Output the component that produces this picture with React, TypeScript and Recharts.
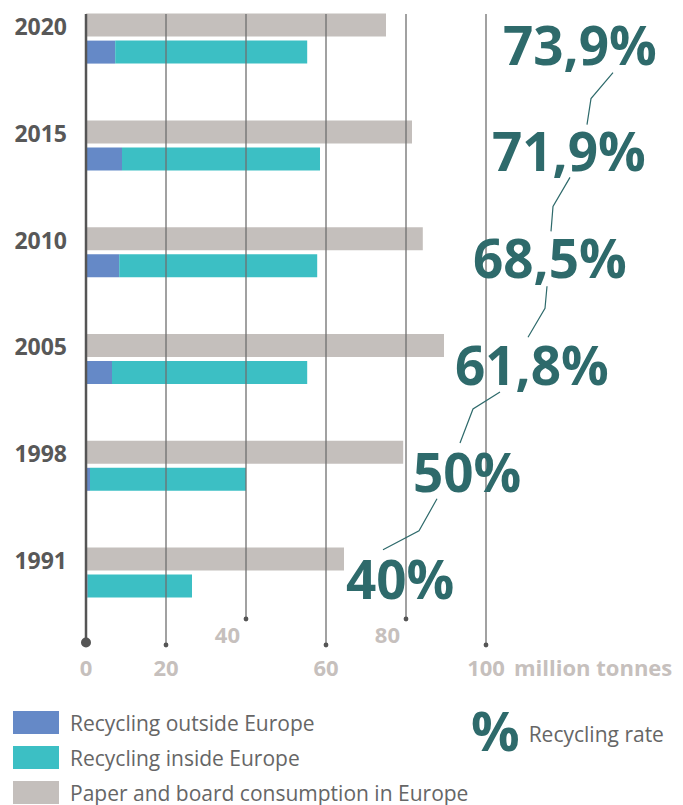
import { BarChart, Bar, XAxis, YAxis, LabelList } from "recharts";

const years = ["2020", "2015", "2010", "2005", "1998", "1991"];
const consumption = [75, 81.5, 84.2, 89.5, 79.3, 64.5];
const outsideEurope = [7.3, 9, 8.3, 6.5, 1, 0.4];
const insideEurope = [48, 49.5, 49.5, 48.8, 39, 26.1];
const recyclingRate = ["73,9%", "71,9%", "68,5%", "61,8%", "50%", "40%"];
const xTicks = [0, 20, 40, 60, 80, 100];

const seriesNames = [
  "Recycling outside Europe",
  "Recycling inside Europe",
  "Paper and board consumption in Europe",
];

const data = years.map((year, i) => ({
  year,
  consumption: consumption[i],
  outside: outsideEurope[i],
  inside: insideEurope[i],
  rate: recyclingRate[i],
}));

const FONT = "'Open Sans', sans-serif";
const GREY = "#c4bfbc";
const BLUE = "#6589c7";
const TEAL = "#3cbfc4";
const DARK_TEAL = "#2e6a6b";
const TICK_GREY = "#c6c0bd";
const GRID_TOP = 14;

// hand placed annotation layout (left edge of each rate label, connector path relative to bar top)
const rateLabelX = [503, 492, 473, 455, 413, 346];
const connectors = [
  [[613, 59], [591, 85], [587, 111]],
  [[570, 57], [553, 86], [551, 111]],
  [[547, 59], [545, 81], [528, 110]],
  [[500, 58], [473, 75], [460, 109]],
  [[437, 58], [419, 90], [383, 109]],
];

function YearTick({ y, payload }: any) {
  return (
    <text x={67} y={y - 4} textAnchor="end" fontFamily={FONT} fontWeight={700} fontSize={23} fill="#585858">
      {payload.value}
    </text>
  );
}

function XTick({ x, payload }: any) {
  const v = payload.value;
  if (v === 0) {
    return (
      <g>
        <line x1={x} x2={x} y1={GRID_TOP} y2={642} stroke="#555" strokeWidth={2.5} />
        <circle cx={x} cy={642.5} r={5} fill="#555" />
        <text x={x} y={676} textAnchor="middle" fontFamily={FONT} fontWeight={700} fontSize={22} fill={TICK_GREY}>0</text>
      </g>
    );
  }
  const upper = v === 40 || v === 80;
  const dotY = upper ? 619 : 645;
  return (
    <g>
      <line x1={x} x2={x} y1={GRID_TOP} y2={dotY} stroke="#6f6f6f" strokeWidth={1.3} />
      <circle cx={x} cy={dotY} r={2.4} fill="#555" />
      <text
        x={upper ? x - 6 : x}
        y={upper ? 643 : 676}
        textAnchor={upper ? "end" : "middle"}
        fontFamily={FONT}
        fontWeight={700}
        fontSize={22}
        fill={TICK_GREY}
      >
        {v}
      </text>
      {v === 100 && (
        <text x={x + 28} y={676} fontFamily={FONT} fontWeight={700} fontSize={22} fill={TICK_GREY}>
          million tonnes
        </text>
      )}
    </g>
  );
}

function RateLabel(props: any) {
  const { y, value } = props;
  const i = recyclingRate.indexOf(value);
  if (i < 0) return null;
  const path = connectors[i];
  return (
    <g>
      <text x={rateLabelX[i]} y={y + 51} fontFamily={FONT} fontWeight={700} fontSize={53} fill={DARK_TEAL}>
        {value}
      </text>
      {path && (
        <polyline
          points={path.map(([px, py]) => `${px},${y + py}`).join(" ")}
          fill="none"
          stroke={DARK_TEAL}
          strokeWidth={1.2}
        />
      )}
    </g>
  );
}

function Legend() {
  const colors = [BLUE, TEAL, GREY];
  return (
    <div style={{ position: "absolute", left: 0, top: 0, width: 683, height: 805, fontFamily: FONT, color: "#666", pointerEvents: "none" }}>
      {seriesNames.map((name, i) => (
        <div key={name} style={{ position: "absolute", left: 13, top: 711 + i * 35, height: 23, display: "flex", alignItems: "center" }}>
          <div style={{ width: 46, height: 23, background: colors[i] }} />
          <span style={{ marginLeft: 11, fontSize: 21, whiteSpace: "nowrap" }}>{name}</span>
        </div>
      ))}
      <div style={{ position: "absolute", left: 471, top: 700, height: 60, display: "flex", alignItems: "center" }}>
        <span style={{ fontSize: 54, fontWeight: 700, color: DARK_TEAL }}>%</span>
        <span style={{ marginLeft: 9, fontSize: 21, marginTop: 8, whiteSpace: "nowrap" }}>Recycling rate</span>
      </div>
    </div>
  );
}

export default function App() {
  return (
    <div style={{ position: "absolute", left: 0, top: 0, width: 683, height: 805, background: "#fff" }}>
      <BarChart
        width={683}
        height={805}
        data={data}
        layout="vertical"
        margin={{ top: -14.4, right: 197, bottom: 118.6, left: 0 }}
        barSize={23}
        barGap={4}
      >
        <XAxis
          type="number"
          domain={[0, 100]}
          ticks={xTicks}
          interval={0}
          axisLine={false}
          tickLine={false}
          height={60}
          tick={<XTick />}
        />
        <YAxis
          type="category"
          dataKey="year"
          width={86}
          axisLine={false}
          tickLine={false}
          tick={<YearTick />}
        />
        <Bar dataKey="consumption" stackId="c" fill={GREY} isAnimationActive={false}>
          <LabelList dataKey="rate" content={<RateLabel />} />
        </Bar>
        <Bar dataKey="outside" stackId="r" fill={BLUE} isAnimationActive={false} />
        <Bar dataKey="inside" stackId="r" fill={TEAL} isAnimationActive={false} />
      </BarChart>
      <Legend />
    </div>
  );
}
